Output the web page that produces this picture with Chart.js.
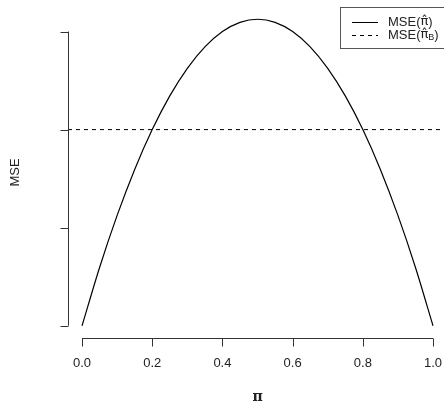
<!DOCTYPE html>
<html>
<head>
<meta charset="utf-8">
<script src="https://cdn.jsdelivr.net/npm/chart.js@4"></script>
<style>
  html, body { margin: 0; padding: 0; background: #fff; }
  #wrap { width: 444px; height: 403px; }
</style>
</head>
<body>
<div id="wrap"><canvas id="mse-chart" width="444" height="403"></canvas></div>
<script>
// values
const piValues  = [0, 0.05, 0.1, 0.15, 0.2, 0.25, 0.3, 0.35, 0.4, 0.45, 0.5,
                   0.55, 0.6, 0.65, 0.7, 0.75, 0.8, 0.85, 0.9, 0.95, 1]
const mseValues = [0, 0.0475, 0.09, 0.1275, 0.16, 0.1875, 0.21, 0.2275, 0.24, 0.2475, 0.25,
                   0.2475, 0.24, 0.2275, 0.21, 0.1875, 0.16, 0.1275, 0.09, 0.0475, 0]
const mseBayes = 0.16
const xTicks = [0, 0.2, 0.4, 0.6, 0.8, 1]
const xTickLabels = ['0.0', '0.2', '0.4', '0.6', '0.8', '1.0']
const yTicks = [0, 0.08, 0.16, 0.24]

const xMin = -0.04, xMax = 1.0313
const yMin = -0.01, yMax = 0.26

const axisColor = '#333'
const textColor = '#222'
const font = '13px "Liberation Sans", Arial, sans-serif'
const hatFont = '13px "DejaVu Sans", sans-serif'
const subFont = '9px "Liberation Sans", Arial, sans-serif'

// draw a row of text pieces, each {t, f, dy}
function drawPieces(ctx, pieces, x0, y0) {
    let tx = x0
    pieces.forEach(p => {
        ctx.font = p.f
        ctx.fillText(p.t, tx, y0 + (p.dy || 0))
        tx += ctx.measureText(p.t).width
    })
}

// R style axes, titles and legend
const rStyle = {
    id: 'rStyle',
    afterDraw(chart) {
        const ctx = chart.ctx
        const x = chart.scales.x
        const y = chart.scales.y
        const area = chart.chartArea
        ctx.save()
        ctx.strokeStyle = axisColor
        ctx.lineWidth = 1
        ctx.fillStyle = textColor
        ctx.font = font

        // x axis
        const xa = Math.round(area.bottom) + 0.5
        ctx.beginPath()
        ctx.moveTo(x.getPixelForValue(xTicks[0]), xa)
        ctx.lineTo(x.getPixelForValue(xTicks[xTicks.length - 1]), xa)
        xTicks.forEach(t => {
            const px = Math.round(x.getPixelForValue(t)) + 0.5
            ctx.moveTo(px, xa)
            ctx.lineTo(px, xa + 8)
        })
        ctx.stroke()
        ctx.textAlign = 'center'
        ctx.textBaseline = 'middle'
        xTicks.forEach((t, i) => {
            ctx.fillText(xTickLabels[i], x.getPixelForValue(t), xa + 25)
        })

        // y axis
        const ya = Math.round(area.left) + 0.5
        ctx.beginPath()
        ctx.moveTo(ya, y.getPixelForValue(yTicks[0]))
        ctx.lineTo(ya, y.getPixelForValue(yTicks[yTicks.length - 1]))
        yTicks.forEach(t => {
            const py = Math.round(y.getPixelForValue(t)) + 0.5
            ctx.moveTo(ya, py)
            ctx.lineTo(ya - 8, py)
        })
        ctx.stroke()

        // titles
        ctx.font = 'bold 14px "DejaVu Serif", serif'
        ctx.fillText('π', x.getPixelForValue(0.5), 397)
        ctx.font = font
        ctx.save()
        ctx.translate(15, (area.top + area.bottom) / 2)
        ctx.rotate(-Math.PI / 2)
        ctx.fillText('MSE', 0, 0)
        ctx.restore()

        // legend
        ctx.strokeStyle = '#555'
        ctx.strokeRect(340.5, 7.5, 120, 41)
        ctx.strokeStyle = '#000'
        ctx.beginPath()
        ctx.moveTo(352, 22.5)
        ctx.lineTo(378, 22.5)
        ctx.stroke()
        ctx.setLineDash([4, 4])
        ctx.beginPath()
        ctx.moveTo(352, 35.5)
        ctx.lineTo(378, 35.5)
        ctx.stroke()
        ctx.setLineDash([])
        ctx.textAlign = 'left'
        drawPieces(ctx, [
            { t: 'MSE(', f: font },
            { t: 'π\u0302', f: hatFont },
            { t: ')', f: font }
        ], 388, 22)
        drawPieces(ctx, [
            { t: 'MSE(', f: font },
            { t: 'π\u0302', f: hatFont },
            { t: 'B', f: subFont, dy: 3 },
            { t: ')', f: font }
        ], 388, 35)
        ctx.restore()
    }
}

new Chart(document.querySelector('#mse-chart').getContext('2d'), {
    type: 'line',
    data: {
        datasets: [
            {
                label: 'MSE(π\u0302)',
                data: piValues.map((p, i) => ({ x: p, y: mseValues[i] })),
                borderColor: '#000',
                borderWidth: 1.2,
                pointRadius: 0,
                cubicInterpolationMode: 'monotone',
                fill: false
            },
            {
                label: 'MSE(π\u0302B)',
                data: [{ x: xMin, y: mseBayes }, { x: xMax, y: mseBayes }],
                borderColor: '#000',
                borderWidth: 1,
                borderDash: [4, 4],
                pointRadius: 0,
                fill: false
            }
        ]
    },
    options: {
        responsive: false,
        animation: false,
        devicePixelRatio: 1,
        layout: { padding: { left: 68, top: 7, right: 0, bottom: 65 } },
        scales: {
            x: { type: 'linear', min: xMin, max: xMax, display: false },
            y: { type: 'linear', min: yMin, max: yMax, display: false }
        },
        plugins: {
            legend: { display: false },
            tooltip: { enabled: false }
        }
    },
    plugins: [rStyle]
})
</script>
</body>
</html>
